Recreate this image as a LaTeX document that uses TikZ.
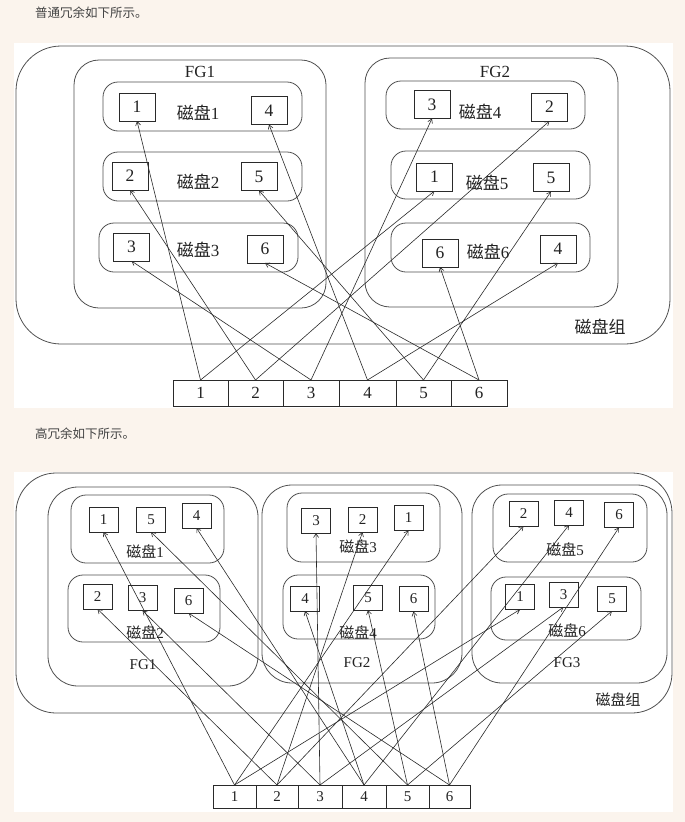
\documentclass[tikz,border=0pt]{standalone}
\usepackage{fontspec}
\setmainfont{Liberation Serif}
\newfontfamily\cjk{Noto Sans CJK SC}
\usetikzlibrary{arrows.meta}
\definecolor{bgc}{HTML}{FBF4ED}
\definecolor{linec}{HTML}{2A2A2A}
\definecolor{outc}{HTML}{505050}
\definecolor{txtc}{HTML}{222222}
\newcommand\rbox[6]{\node[container, rounded corners=#6, minimum width={#4-#2}, minimum height={#5-#3}] (#1) at ({(#2+#4)/2},{(#3+#5)/2}) {};}
\begin{document}
\begin{tikzpicture}[x=1pt,y=-1pt,
  container/.style={draw=outc, line width=0.8pt, inner sep=0pt, outer sep=0pt},
  boxA/.style={draw=linec, line width=0.8pt, inner sep=0pt, outer sep=0pt, minimum width=36pt, minimum height=28pt, text=txtc, font=\fontsize{17.5}{17.5}\selectfont},
  boxB/.style={draw=linec, line width=0.8pt, inner sep=0pt, outer sep=0pt, minimum width=29pt, minimum height=25pt, text=txtc, font=\fontsize{15}{15}\selectfont},
  cellA/.style={draw=linec, line width=0.8pt, inner sep=0pt, outer sep=0pt, minimum height=26pt, text=txtc, font=\fontsize{17}{17}\selectfont},
  cellB/.style={draw=linec, line width=0.8pt, inner sep=0pt, outer sep=0pt, minimum height=23pt, text=txtc, font=\fontsize{15}{15}\selectfont},
  labA/.style={inner sep=0pt, text=txtc, font=\fontsize{17}{17}\selectfont},
  labB/.style={inner sep=0pt, text=txtc, font=\fontsize{15}{15}\selectfont},
  title/.style={inner sep=0pt, anchor=west, text=txtc!85, font=\cjk\fontsize{12.5}{12.5}\selectfont},
  arr/.style={draw=linec, line width=0.6pt, -{Straight Barb[length=4pt,width=5pt]}}
]
\useasboundingbox (0,0) rectangle (685,822);
\fill[bgc] (0,0) rectangle (685,822);
\fill[white] (14,43) rectangle (673,408);
\fill[white] (14,472) rectangle (673,812);

\node[title] (ttl1) at (35,13) {普通冗余如下所示。};
\node[title] (ttl2) at (35,434) {高冗余如下所示。};

% ---------- top diagram ----------
\rbox{outerA}{16}{46}{670}{344}{45pt}
\rbox{fgA1}{74}{60}{326}{308}{25pt}
\rbox{fgA2}{365}{58}{618}{307}{25pt}
\rbox{rA1}{103}{82}{302}{131}{15pt}
\rbox{rA2}{103}{152}{302}{201}{15pt}
\rbox{rA3}{99}{223}{298}{272}{15pt}
\rbox{rA4}{386}{81}{585}{129}{15pt}
\rbox{rA5}{391}{151}{590}{199}{15pt}
\rbox{rA6}{391}{223}{590}{272}{15pt}

\node[labA] (lfgA1) at (200,72) {FG1};
\node[labA] (lfgA2) at (495,72) {FG2};
\node[labA] (ldA1) at (198,113) {{\cjk 磁盘}1};
\node[labA] (ldA2) at (198,182) {{\cjk 磁盘}2};
\node[labA] (ldA3) at (198,250) {{\cjk 磁盘}3};
\node[labA] (ldA4) at (480,112) {{\cjk 磁盘}4};
\node[labA] (ldA5) at (487,183) {{\cjk 磁盘}5};
\node[labA] (ldA6) at (488,252) {{\cjk 磁盘}6};
\node[labA] (lgrpA) at (600,327) {\cjk 磁盘组};

\node[boxA] (b1) at (137,107) {1};
\node[boxA] (b4) at (269,110.5) {4};
\node[boxA] (b2) at (130,176) {2};
\node[boxA] (b5) at (259,176.5) {5};
\node[boxA] (b3) at (131.5,247) {3};
\node[boxA] (b6) at (265,249) {6};
\node[boxA] (c3) at (432,104.5) {3};
\node[boxA] (c2) at (549.5,107) {2};
\node[boxA] (c1) at (434.5,177) {1};
\node[boxA] (c5) at (551,177.5) {5};
\node[boxA] (c6) at (440,253) {6};
\node[boxA] (c4) at (558,249) {4};

\node[cellA, minimum width=55pt] (t1) at (200.5,393) {1};
\node[cellA, minimum width=55pt] (t2) at (255.5,393) {2};
\node[cellA, minimum width=56pt] (t3) at (311,393) {3};
\node[cellA, minimum width=57pt] (t4) at (367.5,393) {4};
\node[cellA, minimum width=55pt] (t5) at (423.5,393) {5};
\node[cellA, minimum width=56pt] (t6) at (479,393) {6};

\foreach \i in {1,...,6}{
  \draw[arr] (t\i.north) -- (b\i.south);
  \draw[arr] (t\i.north) -- (c\i.south);
}

% ---------- bottom diagram ----------
\rbox{outerB}{16}{473}{672}{713}{40pt}
\rbox{fgB1}{48}{487}{258}{686}{30pt}
\rbox{fgB2}{262}{485}{462}{683}{30pt}
\rbox{fgB3}{472}{485}{667}{683}{30pt}
\rbox{rB1}{71}{495}{224}{563}{15pt}
\rbox{rB2}{68}{575}{220}{642}{15pt}
\rbox{rB3}{287}{493}{440}{562}{15pt}
\rbox{rB4}{283}{575}{435}{639}{15pt}
\rbox{rB5}{493}{494}{647}{562}{15pt}
\rbox{rB6}{491}{577}{641}{640}{15pt}

\node[labB] (ldB1) at (145,552) {{\cjk 磁盘}1};
\node[labB] (ldB2) at (145,633) {{\cjk 磁盘}2};
\node[labB] (lfgB1) at (143,665) {FG1};
\node[labB] (ldB3) at (358,547) {{\cjk 磁盘}3};
\node[labB] (ldB4) at (358,633) {{\cjk 磁盘}4};
\node[labB] (lfgB2) at (357,663) {FG2};
\node[labB] (ldB5) at (565,550) {{\cjk 磁盘}5};
\node[labB] (ldB6) at (567,631) {{\cjk 磁盘}6};
\node[labB] (lfgB3) at (567,663) {FG3};
\node[labB] (lgrpB) at (618,700) {\cjk 磁盘组};

\node[boxB] (e1) at (103.5,519.5) {1};
\node[boxB] (e5) at (151,519.5) {5};
\node[boxB] (e4) at (196.5,515.5) {4};
\node[boxB] (e2) at (97.5,596.5) {2};
\node[boxB] (e3) at (142.5,598) {3};
\node[boxB] (e6) at (188.5,600.5) {6};
\node[boxB] (f3) at (316,520.5) {3};
\node[boxB] (f2) at (362.5,519.5) {2};
\node[boxB] (f1) at (408.5,518) {1};
\node[boxB] (f4) at (305,598.5) {4};
\node[boxB] (f5) at (368,597.5) {5};
\node[boxB] (f6) at (413.5,599) {6};
\node[boxB] (g2) at (523.5,513.5) {2};
\node[boxB] (g4) at (569,512.5) {4};
\node[boxB] (g6) at (619,515) {6};
\node[boxB] (g1) at (520,597) {1};
\node[boxB] (g3) at (563.5,594.5) {3};
\node[boxB] (g5) at (612,598.5) {5};

\node[cellB, minimum width=43pt] (u1) at (234.5,796.5) {1};
\node[cellB, minimum width=42pt] (u2) at (277,796.5) {2};
\node[cellB, minimum width=44pt] (u3) at (320,796.5) {3};
\node[cellB, minimum width=44pt] (u4) at (364,796.5) {4};
\node[cellB, minimum width=43pt] (u5) at (407.5,796.5) {5};
\node[cellB, minimum width=41pt] (u6) at (449.5,796.5) {6};

\foreach \i in {1,...,6}{
  \draw[arr] (u\i.north) -- (e\i.south);
  \draw[arr] (u\i.north) -- (f\i.south);
  \draw[arr] (u\i.north) -- (g\i.south);
}
\end{tikzpicture}
\end{document}
